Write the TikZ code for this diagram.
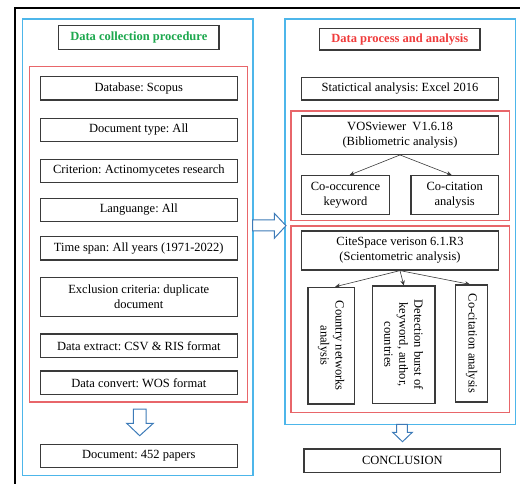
\documentclass[tikz,border=0pt]{standalone}
\usepackage{fontspec}
\setmainfont{Liberation Serif}
\frenchspacing
\usetikzlibrary{arrows.meta,calc}
\definecolor{boxgray}{HTML}{3A3A3A}
\definecolor{frameblue}{HTML}{4DB6EA}
\definecolor{framered}{HTML}{E8666A}
\definecolor{titlegreen}{HTML}{1DA84E}
\definecolor{titlered}{HTML}{F03C3C}
\definecolor{arrowblue}{HTML}{3D7BB8}
\tikzset{
  box/.style={draw=boxgray, line width=1.2pt, fill=white, align=center, inner sep=0pt,
    font=\fontsize{12.5}{15}\selectfont},
  vbox/.style={box, rotate=-90},
  bluefr/.style={draw=frameblue, line width=1.3pt},
  redfr/.style={draw=framered, line width=1.1pt},
  conn/.style={draw=boxgray, line width=0.6pt, -{Stealth[length=5pt,width=4.5pt]}},
  blockarrow/.style={draw=arrowblue, line width=1pt, fill=white, line join=miter},
}
\begin{document}
\begin{tikzpicture}[x=1pt,y=-1pt]
\useasboundingbox (0,0) rectangle (520,484);
% outer frame
\draw[black, line width=1.3pt] (15,484) -- (15,8) -- (520,8);
% containers
\draw[bluefr] (22.7,19) rectangle (253,475.7);
\draw[bluefr] (285,19) rectangle (515.7,424.3);
\draw[redfr] (29.3,66.7) rectangle (247.3,402);
\draw[redfr] (291,111) rectangle (509.3,220.7);
\draw[redfr] (291,226) rectangle (509.3,412.7);

% left column
\node[box, minimum width=160.3, minimum height=23.6, text=titlegreen, font=\fontsize{12.5}{15}\selectfont\bfseries] (ltitle) at (138.8,37.5) {Data collection procedure};
\node[box, minimum width=197, minimum height=23.3] (db) at (138.8,88.3) {Database: Scopus};
\node[box, minimum width=197, minimum height=23.3] (dt) at (138.8,130) {Document type: All};
\node[box, minimum width=197, minimum height=23.3] (cr) at (138.8,171) {Criterion: Actinomycetes research};
\node[box, minimum width=197, minimum height=23.3] (lg) at (138.8,210) {Languange: All};
\node[box, minimum width=197, minimum height=23.3] (ts) at (138.8,248.3) {Time span: All years (1971-2022)};
\node[box, minimum width=197, minimum height=39] (ex) at (138.8,297.2) {Exclusion criteria: duplicate\\document};
\node[box, minimum width=197, minimum height=23.3] (de) at (138.8,345.7) {Data extract: CSV \& RIS format};
\node[box, minimum width=197, minimum height=23.3] (dc) at (138.8,382.7) {Data convert: WOS format};
\node[box, minimum width=197, minimum height=23.3] (doc) at (138.8,456) {Document: 452 papers};

% right column
\node[box, minimum width=160.3, minimum height=21.7, text=titlered, font=\fontsize{12.5}{15}\selectfont\bfseries] (rtitle) at (399.8,39.2) {Data process and analysis};
\node[box, minimum width=196.6, minimum height=22.3] (st) at (400,88.8) {Statictical analysis: Excel 2016};
\node[box, minimum width=196.6, minimum height=38.3] (vos) at (400,135.2) {VOSviewer~ V1.6.18\\(Bibliometric analysis)};
\node[box, minimum width=87.6, minimum height=38.6] (cooc) at (345.5,195) {Co-occurence\\keyword};
\node[box, minimum width=87.3, minimum height=38.6] (cocit) at (454.7,195) {Co-citation\\analysis};
\node[box, minimum width=196.6, minimum height=39] (cs) at (400,250.5) {CiteSpace verison 6.1.R3\\(Scientometric analysis)};
\node[vbox, minimum width=116.7, minimum height=46.3] (ctry) at (331.2,345.7) {Country networks\\analysis};
\node[vbox, minimum width=117.3, minimum height=62.3] (det) at (403.8,344.7) {Detection burst of\\keyword, author,\\countries};
\node[vbox, minimum width=117, minimum height=31.6] (cocit2) at (471.5,343.5) {Co-citation analysis};
\node[box, minimum width=196.7, minimum height=23.3] (concl) at (402.3,460.7) {CONCLUSION};

% connectors
\draw[conn] (vos.south) -- ($(cooc.north)+(4,0)$);
\draw[conn] (vos.south) -- ($(cocit.north)+(-3,0)$);
\draw[conn] (cs.south) -- ($(ctry.west)+(4,0)$);
\draw[conn] (cs.south) -- (det.west);
\draw[conn] (cs.south) -- ($(cocit2.west)+(-1.5,0)$);

% block arrows
\draw[blockarrow] (252.7,220) -- (274.3,220) -- (274.3,213.3) -- (286,225.7) -- (274.3,238.3) -- (274.3,231) -- (252.7,231) -- cycle;
\draw[blockarrow] (133.3,409) -- (146,409) -- (146,423.3) -- (153.3,423.3) -- (139.7,435.7) -- (126.7,423.3) -- (133.3,423.3) -- cycle;
\draw[blockarrow] (396.7,424.3) -- (407.3,424.3) -- (407.3,432.3) -- (412.3,432.3) -- (402.5,441.7) -- (392.7,432.3) -- (396.7,432.3) -- cycle;
\end{tikzpicture}
\end{document}
